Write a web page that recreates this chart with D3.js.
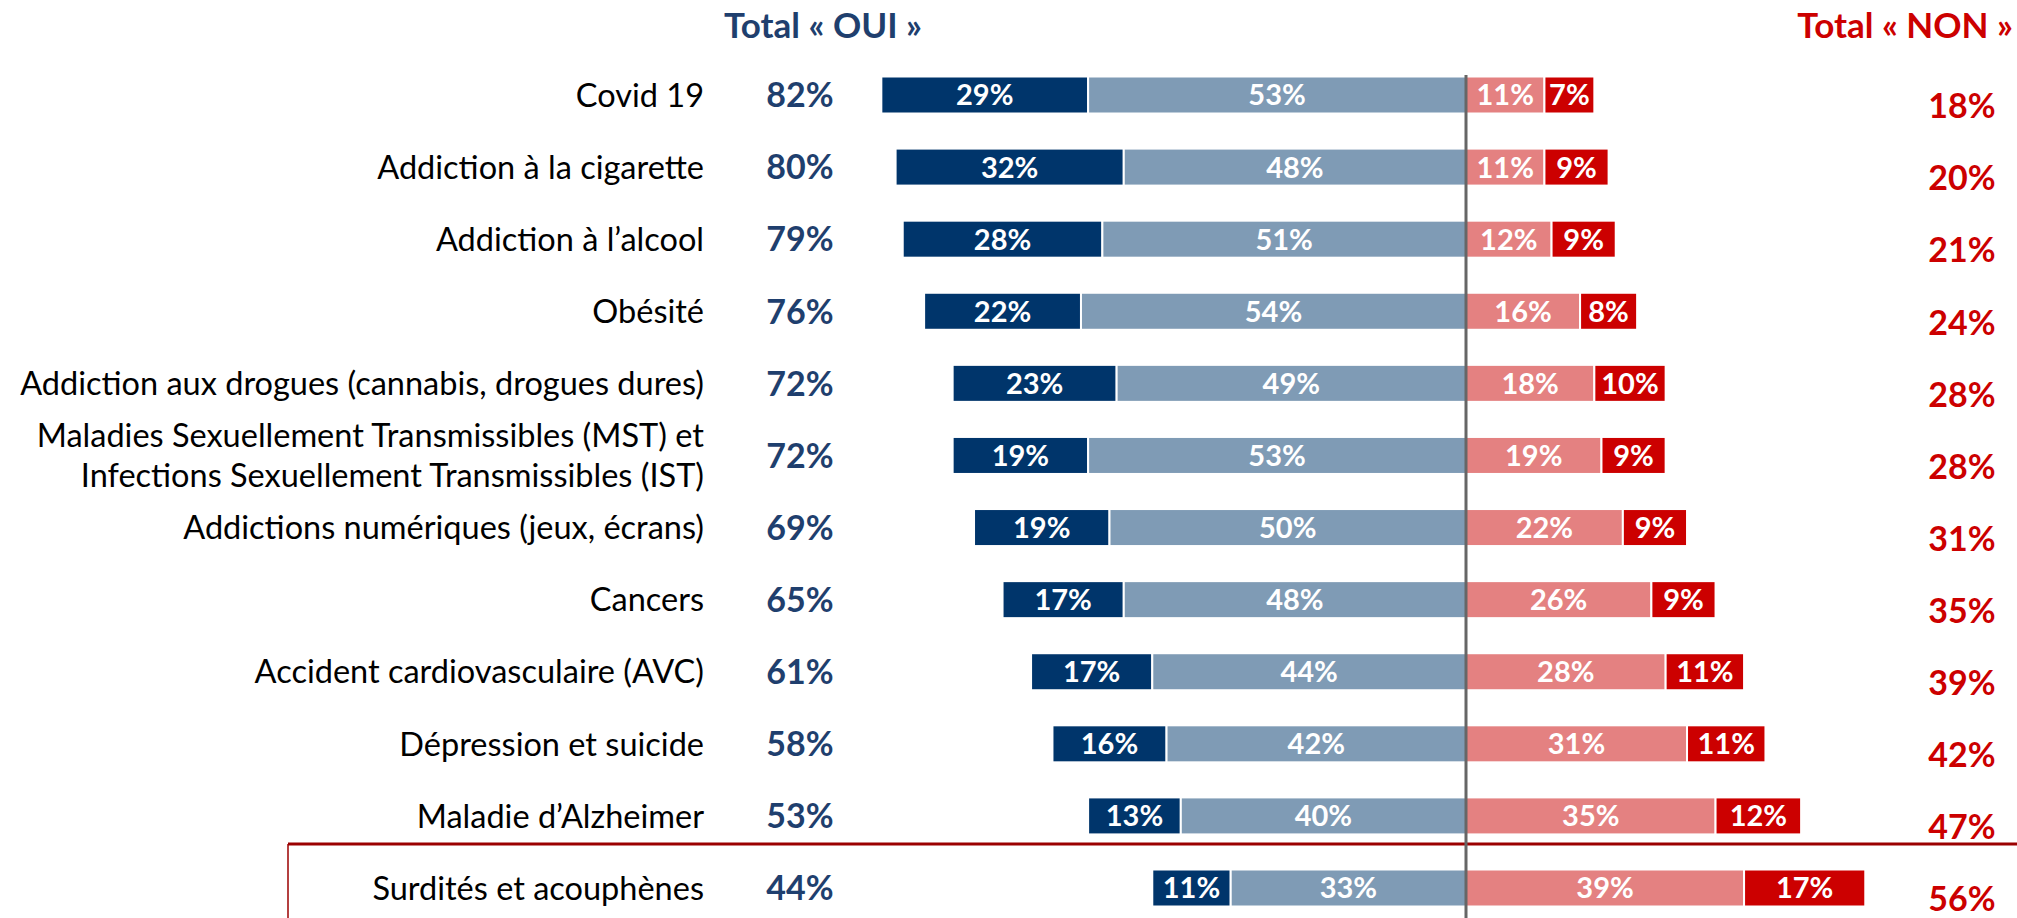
<!DOCTYPE html>
<html>
<head>
<meta charset="utf-8">
<script src="https://cdn.jsdelivr.net/npm/d3@7"></script>
<style>
  html, body { margin: 0; padding: 0; background: #fff; }
  svg { display: block; font-family: Lato, "Open Sans", sans-serif; }
</style>
</head>
<body>
<svg id="chart" width="2017" height="918"></svg>
<script>
// data
const categories = [
  'Covid 19',
  'Addiction à la cigarette',
  'Addiction à l’alcool',
  'Obésité',
  'Addiction aux drogues (cannabis, drogues dures)',
  'Maladies Sexuellement Transmissibles (MST) et\nInfections Sexuellement Transmissibles (IST)',
  'Addictions numériques (jeux, écrans)',
  'Cancers',
  'Accident cardiovasculaire (AVC)',
  'Dépression et suicide',
  'Maladie d’Alzheimer',
  'Surdités et acouphènes',
];
const ouiTres = [29, 32, 28, 22, 23, 19, 19, 17, 17, 16, 13, 11];
const ouiPlutot = [53, 48, 51, 54, 49, 53, 50, 48, 44, 42, 40, 33];
const nonPlutot = [11, 11, 12, 16, 18, 19, 22, 26, 28, 31, 35, 39];
const nonPasDuTout = [7, 9, 9, 8, 10, 9, 9, 9, 11, 11, 12, 17];
const totalOui = [82, 80, 79, 76, 72, 72, 69, 65, 61, 58, 53, 44];
const totalNon = [18, 20, 21, 24, 28, 28, 31, 35, 39, 42, 47, 56];
const headers = ['Total « OUI »', 'Total « NON »'];

const colors = {
  ouiTres: '#00356b',
  ouiPlutot: '#7f9bb5',
  nonPlutot: '#e48181',
  nonPasDuTout: '#cc0000',
  ouiText: '#1f3f6e',
  nonText: '#cc0000',
};

const svg = d3.select('#chart');
const width = 2017, height = 918;

const x = d3.scaleLinear().domain([-100, 100]).range([753, 2179]);
const y = d3.scalePoint().domain(categories).range([95, 888]);
const barH = 37;

// build the stacked segments, negative side for "oui"
const segments = [];
categories.forEach((cat, i) => {
  segments.push({cat, x0: -totalOui[i], x1: -ouiPlutot[i], v: ouiTres[i], c: colors.ouiTres});
  segments.push({cat, x0: -ouiPlutot[i], x1: 0, v: ouiPlutot[i], c: colors.ouiPlutot});
  segments.push({cat, x0: 0, x1: nonPlutot[i], v: nonPlutot[i], c: colors.nonPlutot});
  segments.push({cat, x0: nonPlutot[i], x1: totalNon[i], v: nonPasDuTout[i], c: colors.nonPasDuTout});
});

// frame around the last row
const lastY = y(categories[categories.length - 1]);
svg.append('line')
  .attr('x1', 288).attr('x2', width)
  .attr('y1', lastY - 44).attr('y2', lastY - 44)
  .attr('stroke', '#9b0000').attr('stroke-width', 3);
svg.append('line')
  .attr('x1', 288).attr('x2', 288)
  .attr('y1', lastY - 44).attr('y2', height)
  .attr('stroke', '#9b0000').attr('stroke-width', 1.5);

const seg = svg.append('g').selectAll('g')
  .data(segments)
  .join('g');

seg.append('rect')
  .attr('x', d => x(d.x0))
  .attr('y', d => y(d.cat) - barH / 2)
  .attr('width', d => x(d.x1) - x(d.x0))
  .attr('height', barH)
  .attr('fill', d => d.c)
  .attr('stroke', '#fff')
  .attr('stroke-width', 2);

seg.append('text')
  .attr('x', d => (x(d.x0) + x(d.x1)) / 2)
  .attr('y', d => y(d.cat))
  .attr('dy', '0.36em')
  .attr('text-anchor', 'middle')
  .attr('fill', '#fff')
  .attr('font-weight', 700)
  .attr('font-size', '29px')
  .text(d => d.v + '%');

// center line
svg.append('line')
  .attr('x1', x(0)).attr('x2', x(0))
  .attr('y1', 75).attr('y2', height)
  .attr('stroke', '#666').attr('stroke-width', 3);

// category labels
const labels = svg.append('g').selectAll('text')
  .data(categories)
  .join('text')
  .attr('x', 704)
  .attr('y', d => y(d))
  .attr('text-anchor', 'end')
  .attr('font-size', '32.5px')
  .attr('fill', '#000');

labels.each(function(d) {
  const lines = d.split('\n');
  const t = d3.select(this);
  lines.forEach((line, j) => {
    t.append('tspan')
      .attr('x', 704)
      .attr('dy', j === 0 ? (0.36 - (lines.length - 1) * 0.62) + 'em' : '1.24em')
      .text(line);
  });
});

// totals
svg.append('g').selectAll('text')
  .data(totalOui)
  .join('text')
  .attr('x', 800)
  .attr('y', (d, i) => y(categories[i]))
  .attr('dy', '0.36em')
  .attr('text-anchor', 'middle')
  .attr('font-size', '34px')
  .attr('font-weight', 700)
  .attr('fill', colors.ouiText)
  .text(d => d + '%');

svg.append('g').selectAll('text')
  .data(totalNon)
  .join('text')
  .attr('x', 1962)
  .attr('y', (d, i) => y(categories[i]) + 11)
  .attr('dy', '0.36em')
  .attr('text-anchor', 'middle')
  .attr('font-size', '34px')
  .attr('font-weight', 700)
  .attr('fill', colors.nonText)
  .text(d => d + '%');

// headers
svg.append('text')
  .attr('x', 823).attr('y', 38)
  .attr('text-anchor', 'middle')
  .attr('font-size', '35px')
  .attr('font-weight', 700)
  .attr('fill', colors.ouiText)
  .text(headers[0]);

svg.append('text')
  .attr('x', 2013).attr('y', 38)
  .attr('text-anchor', 'end')
  .attr('font-size', '35px')
  .attr('font-weight', 700)
  .attr('fill', colors.nonText)
  .text(headers[1]);
</script>
</body>
</html>
